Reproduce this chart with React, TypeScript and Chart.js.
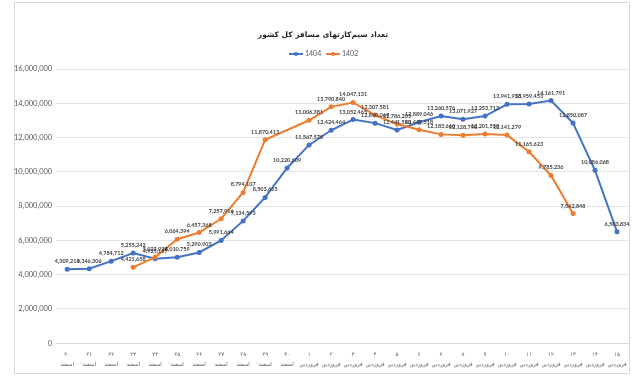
import React, { useEffect, useRef } from "react";
import { Chart, registerables } from "chart.js";

Chart.register(...registerables);

const dayLabels = ["۲۰", "۲۱", "۲۲", "۲۳", "۲۴", "۲۵", "۲۶", "۲۷", "۲۸", "۲۹", "۳۰", "۱", "۲", "۳", "۴", "۵", "۶", "۷", "۸", "۹", "۱۰", "۱۱", "۱۲", "۱۳", "۱۴", "۱۵"];
const monthLabels = ["اسفند", "اسفند", "اسفند", "اسفند", "اسفند", "اسفند", "اسفند", "اسفند", "اسفند", "اسفند", "اسفند", "فروردین", "فروردین", "فروردین", "فروردین", "فروردین", "فروردین", "فروردین", "فروردین", "فروردین", "فروردین", "فروردین", "فروردین", "فروردین", "فروردین", "فروردین"];

const series1404 = [4309213, 4346306, 4784712, 5255242, 4925157, 5010759, 5290903, 5991664, 7134593, 8503665, 10220609, 11567578, 12424464, 13052465, 12840069, 12441580, 12889046, 13260576, 13071927, 13253713, 13941938, 13959453, 14161791, 12850087, 10086068, 6503834];
const series1402 = [null, null, null, 4421658, 5023938, 6064394, 6457368, 7257916, 8794107, 11870413, null, 13006381, 13790840, 14047131, 13307581, 12786205, 12449518, 12183660, 12128790, 12201550, 12141279, 11165623, 9785236, 7562848, null, null];

const titleText = "تعداد سیم‌کارتهای مسافر کل کشور";
const seriesNames = ["1404", "1402"];
const colors = ["#4472C4", "#ED7D31"];

const FONT = "Lato, 'Liberation Sans', 'DejaVu Sans', sans-serif";

const fmt = (v: number) => v.toLocaleString("en-US");

const decorPlugin = {
  id: "decor",
  beforeDraw(chart: any) {
    const ctx = chart.ctx;
    ctx.save();
    ctx.fillStyle = "#ffffff";
    ctx.fillRect(0, 0, chart.width, chart.height);
    ctx.strokeStyle = "#d9d9d9";
    ctx.lineWidth = 1;
    ctx.strokeRect(14.5, 2.5, 615, 371);
    ctx.restore();
  },
  afterDraw(chart: any) {
    const ctx = chart.ctx;
    ctx.save();
    ctx.fillStyle = "#262626";
    ctx.font = "bold 7.5px 'DejaVu Sans', sans-serif";
    ctx.textAlign = "center";
    ctx.textBaseline = "middle";
    ctx.fillText(titleText, 323, 35);
    ctx.font = `7px ${FONT}`;
    ctx.textAlign = "left";
    const items = [
      { x: 289, name: seriesNames[0], color: colors[0] },
      { x: 326, name: seriesNames[1], color: colors[1] },
    ];
    items.forEach((it) => {
      ctx.strokeStyle = it.color;
      ctx.lineWidth = 2;
      ctx.beginPath();
      ctx.moveTo(it.x, 54);
      ctx.lineTo(it.x + 14, 54);
      ctx.stroke();
      ctx.fillStyle = it.color;
      ctx.beginPath();
      ctx.arc(it.x + 7, 54, 2, 0, Math.PI * 2);
      ctx.fill();
      ctx.fillStyle = "#595959";
      ctx.fillText(it.name, it.x + 16, 54);
    });
    ctx.restore();
  },
  afterDatasetsDraw(chart: any) {
    const ctx = chart.ctx;
    ctx.save();
    ctx.font = `bold 5.5px ${FONT}`;
    ctx.fillStyle = "#404040";
    ctx.textAlign = "center";
    ctx.textBaseline = "bottom";
    chart.data.datasets.forEach((ds: any, i: number) => {
      const meta = chart.getDatasetMeta(i);
      meta.data.forEach((pt: any, j: number) => {
        const v = ds.data[j];
        if (v === null || v === undefined) return;
        ctx.fillText(fmt(v), pt.x, pt.y - 5);
      });
    });
    ctx.restore();
  },
};

export default function App() {
  const ref = useRef<HTMLCanvasElement | null>(null);
  useEffect(() => {
    document.body.style.margin = "0";
    const labels = dayLabels.map((d, i) => [d, monthLabels[i]]);
    const chart = new Chart(ref.current as HTMLCanvasElement, {
      type: "line",
      data: {
        labels,
        datasets: [
          {
            label: seriesNames[0],
            data: series1404,
            borderColor: colors[0],
            backgroundColor: colors[0],
            borderWidth: 2,
            pointRadius: 2.5,
            pointBackgroundColor: colors[0],
            pointBorderWidth: 0,
            tension: 0,
            order: 2,
          },
          {
            label: seriesNames[1],
            data: series1402,
            borderColor: colors[1],
            backgroundColor: colors[1],
            borderWidth: 2,
            pointRadius: 2.5,
            pointBackgroundColor: colors[1],
            pointBorderWidth: 0,
            tension: 0,
            spanGaps: true,
            order: 1,
          },
        ],
      },
      options: {
        responsive: false,
        animation: false,
        layout: { padding: { top: 69, left: 10, right: 12, bottom: 0 } },
        plugins: {
          legend: { display: false },
          title: { display: false },
          tooltip: { enabled: false },
        },
        scales: {
          x: {
            offset: true,
            grid: { display: false, drawTicks: false },
            border: { display: true, color: "#d9d9d9" },
            ticks: {
              autoSkip: false,
              maxRotation: 0,
              minRotation: 0,
              padding: 6,
              color: "#595959",
              font: { size: 5.5, family: "'DejaVu Sans', sans-serif", lineHeight: 1.9 },
            },
          },
          y: {
            min: 0,
            max: 16000000,
            grid: { color: "#e3e3e3", drawTicks: false },
            border: { display: false },
            ticks: {
              stepSize: 2000000,
              padding: 4,
              color: "#595959",
              font: { size: 7.5, family: FONT },
              callback: (v: any) => fmt(Number(v)),
            },
          },
        },
      },
      plugins: [decorPlugin],
    });
    return () => chart.destroy();
  }, []);
  return <canvas ref={ref} width={640} height={376} style={{ display: "block" }} />;
}
